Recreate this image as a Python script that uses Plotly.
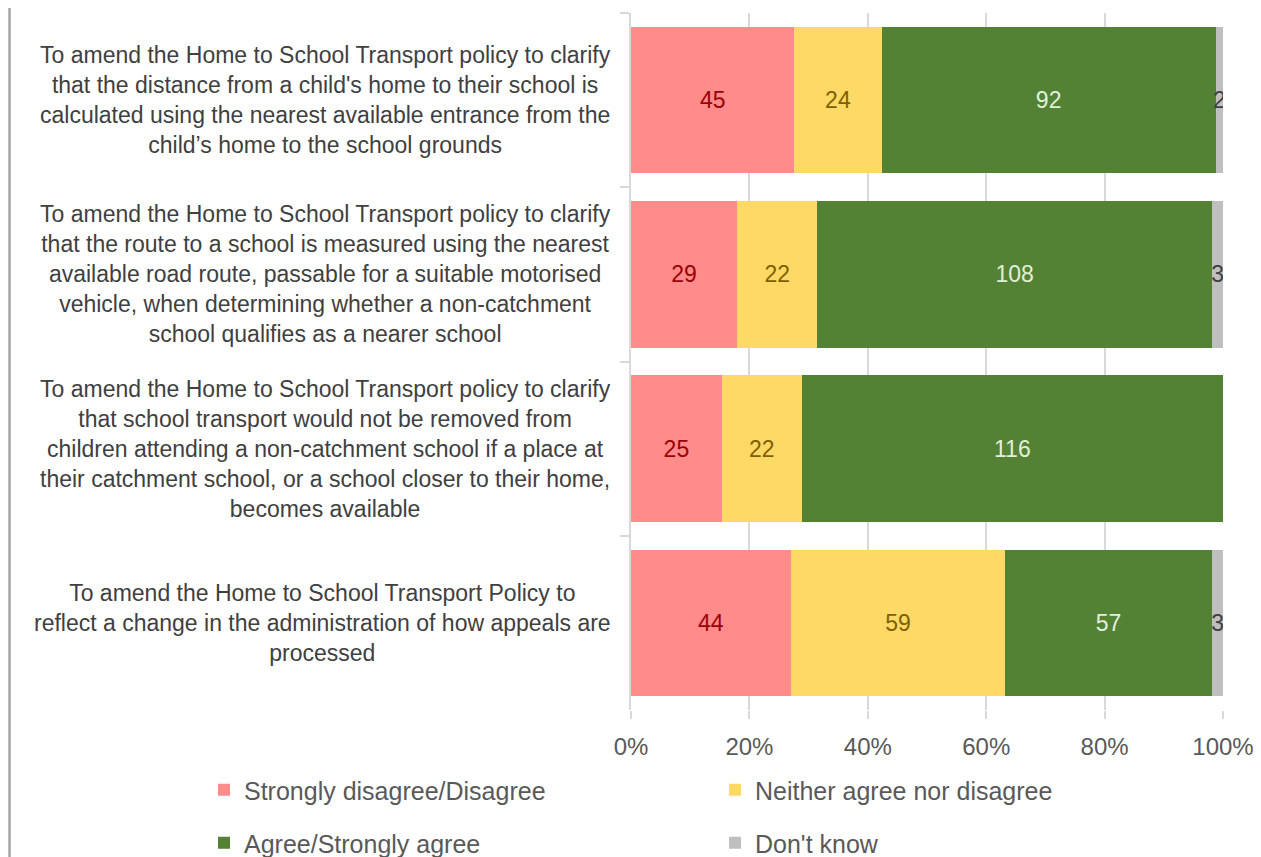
import plotly.graph_objects as go

categories = [
    "To amend the Home to School Transport policy to clarify<br>that the distance from a child's home to their school is<br>calculated using the nearest available entrance from the<br>child’s home to the school grounds",
    "To amend the Home to School Transport policy to clarify<br>that the route to a school is measured using the nearest<br>available road route, passable for a suitable motorised<br>vehicle, when determining whether a non-catchment<br>school qualifies as a nearer school",
    "To amend the Home to School Transport policy to clarify<br>that school transport would not be removed from<br>children attending a non-catchment school if a place at<br>their catchment school, or a school closer to their home,<br>becomes available",
    "To amend the Home to School Transport Policy to<br>reflect a change in the administration of how appeals are<br>processed",
]
series_names = ["Strongly disagree/Disagree", "Neither agree nor disagree",
                "Agree/Strongly agree", "Don't know"]
disagree = [45, 29, 25, 44]
neither = [24, 22, 22, 59]
agree = [92, 108, 116, 57]
dont_know = [2, 3, 0, 3]
x_ticks = [0, 20, 40, 60, 80, 100]
x_tick_labels = ["0%", "20%", "40%", "60%", "80%", "100%"]

series_values = [disagree, neither, agree, dont_know]
bar_colors = ["#FF8B8B", "#FFD966", "#548235", "#BFBFBF"]
text_colors = ["#9C0006", "#7F6000", "#E2EFDA", "#404040"]
legend_ids = ["legend", "legend", "legend2", "legend2"]

FONT = "Liberation Sans, Arial, sans-serif"

# The page body adds an 8px offset; figure sized/margined to compensate.
W, H = 1253, 849
L, R, T, B = 623, 38, 5, 147
PH = H - T - B  # plot height in px
PW = W - L - R

fig = go.Figure()
for name, vals, col, tcol, lg in zip(series_names, series_values, bar_colors, text_colors, legend_ids):
    fig.add_trace(go.Bar(
        y=categories, x=vals, name=name, orientation="h",
        marker=dict(color=col, line=dict(width=0)),
        text=[str(v) if v else "" for v in vals],
        texttemplate="%{text}",
        textposition="inside", insidetextanchor="middle",
        constraintext="none", textangle=0,
        textfont=dict(family=FONT, size=23, color=tcol),
        legend=lg, hoverinfo="skip",
    ))

for cat in categories:
    fig.add_annotation(
        x=0, xref="paper", y=cat, yref="y", xanchor="right", yanchor="middle",
        xshift=-18, text=cat, showarrow=False, align="center",
        font=dict(family=FONT, size=23, color="#404040"),
    )

# left border line of the original chart frame
fig.add_shape(type="line", xref="paper", yref="paper",
              x0=(1.5 - L) / PW, x1=(1.5 - L) / PW,
              y0=-(B + 10) / PH, y1=1 + (T + 10) / PH,
              line=dict(color="#A6A6A6", width=2.5))

fig.update_layout(
    width=W, height=H,
    margin=dict(l=L, r=R, t=T, b=B, autoexpand=False),
    barmode="stack", barnorm="percent", bargap=0.16,
    paper_bgcolor="white", plot_bgcolor="white",
    font=dict(family=FONT, color="#595959"),
    xaxis=dict(range=[0, 100], tickvals=x_ticks, ticktext=x_tick_labels,
               showgrid=True, gridcolor="#D9D9D9", gridwidth=1.5,
               ticks="outside", ticklen=8, tickcolor="#D9D9D9", tickwidth=1.5,
               ticklabelstandoff=7,
               tickfont=dict(family=FONT, size=24, color="#595959"),
               zeroline=False, showline=False, fixedrange=True),
    yaxis=dict(autorange="reversed", showticklabels=False,
               tickson="boundaries", ticks="outside", ticklen=9,
               tickcolor="#D9D9D9", tickwidth=1.5,
               showline=True, linecolor="#D9D9D9", linewidth=1.5,
               showgrid=False, fixedrange=True),
    legend=dict(orientation="h", x=(196 - L) / PW, y=(T + PH - 782) / PH,
                xanchor="left", yanchor="middle", entrywidth=466,
                font=dict(family=FONT, size=25, color="#595959"),
                bgcolor="rgba(0,0,0,0)", traceorder="normal"),
    legend2=dict(orientation="h", x=(196 - L) / PW, y=(T + PH - 835) / PH,
                 xanchor="left", yanchor="middle", entrywidth=466,
                 font=dict(family=FONT, size=25, color="#595959"),
                 bgcolor="rgba(0,0,0,0)", traceorder="normal"),
    showlegend=True,
)

fig.write_html("out.html")
